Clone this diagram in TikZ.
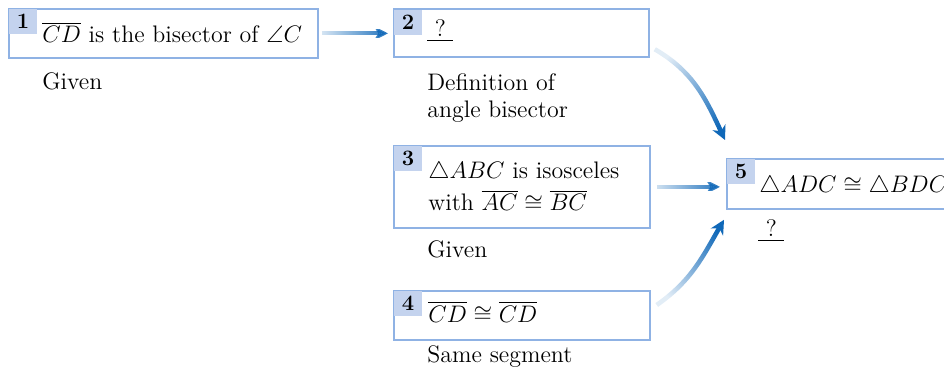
\documentclass[tikz,border=0pt]{standalone}
\usepackage{fix-cm}
\usepackage{amsmath,amssymb}
\usetikzlibrary{arrows.meta,fadings,positioning}
\definecolor{boxline}{HTML}{8FB2E4}
\definecolor{badgefill}{HTML}{C4D3EE}
\definecolor{arrowblue}{HTML}{1068B8}
\tikzfading[name=fade in, left color=transparent!88, right color=transparent!0]

\begin{document}
\begin{tikzpicture}[>=Stealth, font=\fontsize{13.6}{15.6}\selectfont,
    stepbox/.style={draw=boxline, line width=1pt, inner sep=0pt, anchor=north west},
    badge/.style={fill=badgefill, inner sep=0pt, anchor=north west, minimum width=0.55cm, minimum height=0.5cm, font=\fontsize{12.5}{14}\selectfont\bfseries},
    stmt/.style={anchor=base west, inner sep=0pt, align=left},
    flow/.style={-{Stealth[length=8pt, width=8pt, inset=2.5pt]}, line width=2.2pt, draw=arrowblue, path fading=fade in}]
    \clip (0,0) rectangle (18.88,-7.6);

    % Boxes
    \node[stepbox, minimum width=6.18cm, minimum height=0.98cm] (b1) at (0.16,-0.16) {};
    \node[stepbox, minimum width=5.10cm, minimum height=0.96cm] (b2) at (7.86,-0.17) {};
    \node[stepbox, minimum width=5.12cm, minimum height=1.64cm] (b3) at (7.86,-2.90) {};
    \node[stepbox, minimum width=5.12cm, minimum height=0.98cm] (b4) at (7.86,-5.80) {};
    \node[stepbox, minimum width=5.00cm, minimum height=1.00cm] (b5) at (14.52,-3.16) {};

    % Step numbers
    \foreach \n in {1,...,5}
        \node[badge] (n\n) at ([shift={(0.5pt,-0.5pt)}]b\n.north west) {\n};

    % Statements (base of a two-line node is its last line)
    \node[stmt] (t1) at (0.84,-0.86) {$\overline{CD}$ is the bisector of $\angle C$};
    \node[stmt] (t2) at (8.54,-0.74) {\underline{\makebox[0.52cm]{?}}};
    \node[stmt, font=\fontsize{13.6}{18.7}\selectfont] (t3) at (8.56,-4.22) {$\triangle ABC$ is isosceles\\with $\overline{AC}\cong\overline{BC}$};
    \node[stmt] (t4) at (8.56,-6.44) {$\overline{CD}\cong\overline{CD}$};
    \node[stmt] (t5) at (15.18,-3.86) {$\triangle ADC\cong\triangle BDC$};

    % Reasons
    \node[stmt] (r1) at (0.84,-1.80) {Given};
    \node[stmt, font=\fontsize{13.6}{15.2}\selectfont] (r2) at (8.54,-2.35) {Definition of\\angle bisector};
    \node[stmt] (r3) at (8.54,-5.16) {Given};
    \node[stmt] (r4) at (8.54,-7.24) {Same segment};
    \node[stmt] (r5) at (15.16,-4.74) {\underline{\makebox[0.52cm]{?}}};

    % Arrows
    \draw[flow, shorten <=0.06cm, shorten >=0.1cm] (b1.east) -- (b2.west);
    \draw[flow, shorten <=0.12cm, shorten >=0.12cm] (b3.east) -- (b3.east -| b5.west);
    \draw[flow, line width=2.6pt, fading angle=-52] ([shift={(0.1,0.18)}]b2.south east) to[out=-30, in=115] ([shift={(-0.02,0.36)}]b5.north west);
    \draw[flow, line width=2.6pt, fading angle=48] ([shift={(0.12,-0.3)}]b4.north east) to[out=35, in=-120] ([shift={(-0.04,-0.2)}]b5.south west);
\end{tikzpicture}
\end{document}
